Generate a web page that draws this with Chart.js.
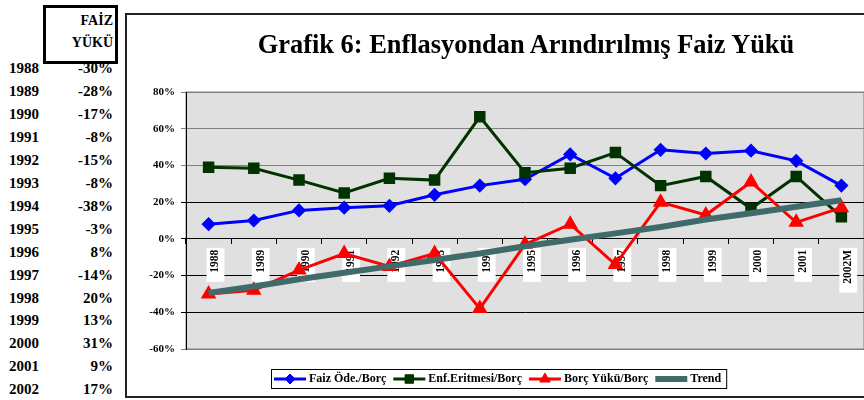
<!DOCTYPE html>
<html>
<head>
<meta charset="utf-8">
<script src="https://cdn.jsdelivr.net/npm/chart.js@4"></script>
<style>
  html, body { margin:0; padding:0; background:#fff; overflow:hidden; }
  body { width:864px; height:400px; position:relative; font-family:"Liberation Serif", serif; font-weight:bold; color:#000; }
  #hdr { position:absolute; left:43px; top:5px; width:69px; height:53px; border:3px solid #000; }
  #hdr div { position:absolute; right:2px; font-size:14px; }
  .yr { position:absolute; left:9px; font-size:15px; }
  .vl { position:absolute; width:60px; left:53px; text-align:right; font-size:15px; }
  #box { position:absolute; left:125px; top:13px; width:760px; height:381px; border:2px solid #222; }
  #title { position:absolute; left:126px; top:29px; width:800px; text-align:center; font-size:26.4px; line-height:30px; }
  #wrap { position:absolute; left:127px; top:15px; width:746px; height:379px; }
</style>
</head>
<body>
<div id="hdr"><div style="top:5px">FAİZ</div><div style="top:27px">YÜKÜ</div></div>
<div id="table"></div>
<div id="box"></div>
<div id="wrap"><canvas id="myChart"></canvas></div>
<div id="title">Grafik 6: Enflasyondan Arındırılmış Faiz Yükü</div>
<script>
// data
var YEARS=['1988','1989','1990','1991','1992','1993','1994','1995','1996','1997','1998','1999','2000','2001','2002M'];
var TABLE_YEARS=['1988','1989','1990','1991','1992','1993','1994','1995','1996','1997','1998','1999','2000','2001','2002'];
var FAIZ_YUKU=[-30,-28,-17,-8,-15,-8,-38,-3,8,-14,20,13,31,9,17];

var faizOde=[8,10,15.5,17,18,24,29,32.5,46,33,48.5,46.5,48,42.5,29];
var enfEritme=[39,38.5,32,25,33,32,66.5,36,38.5,47,29,34,16.5,34,12];
var borcYuku=[-30,-28,-17,-8,-15,-8,-38,-3,8,-14,20,13,31,9,17];
var trend=[-29.5,-26,-22,-18.5,-15,-11.5,-8,-4,-0.5,3,6.5,10.5,14,17.5,21];

var Y_TICKS=[80,60,40,20,0,-20,-40,-60];

// left table
var tbl=document.getElementById('table');
for (var i=0;i<TABLE_YEARS.length;i++)
{
    var rowTop=60+i*22.95;
    var a=document.createElement('div');
    a.className='yr'; a.style.top=rowTop+'px'; a.textContent=TABLE_YEARS[i];
    var b=document.createElement('div');
    b.className='vl'; b.style.top=rowTop+'px'; b.textContent=FAIZ_YUKU[i]+'%';
    tbl.appendChild(a); tbl.appendChild(b);
}

// gray plot background + excel style legend
var plotBg={
    id:'plotBg',
    beforeDraw:function(chart){
        var c=chart.ctx, a=chart.chartArea;
        c.save();
        c.fillStyle='#e0e0e0';
        c.fillRect(a.left,a.top,a.right-a.left,a.bottom-a.top);
        c.strokeStyle='#808080';
        c.lineWidth=1;
        c.strokeRect(a.left,a.top,a.right-a.left,a.bottom-a.top);
        c.restore();
    },
    afterDraw:function(chart){
        var c=chart.ctx;
        var sets=chart.data.datasets;
        c.save();
        c.font='bold 12px "Liberation Serif"';
        c.textBaseline='middle';
        var x=147, y=364, lineLen=32;
        var left=x-3;
        for (var k=0;k<sets.length;k++)
        {
            var ds=sets[k];
            c.strokeStyle=ds.borderColor;
            c.lineWidth=ds.borderWidth;
            c.beginPath(); c.moveTo(x,y); c.lineTo(x+lineLen,y); c.stroke();
            if (ds.pointRadius>0)
            {
                c.fillStyle=ds.borderColor;
                c.lineWidth=1;
                Chart.helpers.drawPoint(c,{pointStyle:ds.pointStyle,radius:ds.pointRadius,rotation:0,borderWidth:1},x+lineLen/2,y);
            }
            x+=lineLen+3;
            c.fillStyle='#000';
            c.fillText(ds.label,x,y);
            x+=c.measureText(ds.label).width+7;
        }
        c.strokeStyle='#000';
        c.lineWidth=1;
        c.strokeRect(left+0.5,354.5,x-left-2,19);
        c.restore();
    }
};

var ctx=document.getElementById('myChart').getContext('2d');
var chart=new Chart(ctx,{
    type:'line',
    data:{
        labels:YEARS,
        datasets:[{
            label:'Faiz Öde./Borç',
            data:faizOde,
            borderColor:'#0000ff', backgroundColor:'#0000ff',
            borderWidth:3, pointStyle:'rectRot', pointRadius:5,
            order:3
        },{
            label:'Enf.Eritmesi/Borç',
            data:enfEritme,
            borderColor:'#003300', backgroundColor:'#003300',
            borderWidth:3, pointStyle:'rect', pointRadius:6,
            order:2
        },{
            label:'Borç Yükü/Borç',
            data:borcYuku,
            borderColor:'#ff0000', backgroundColor:'#ff0000',
            borderWidth:3, pointStyle:'triangle', pointRadius:6,
            order:1
        },{
            label:'Trend',
            data:trend,
            borderColor:'#416b6b', backgroundColor:'#416b6b',
            borderWidth:6, pointRadius:0,
            order:0
        }]
    },
    options:{
        responsive:true,
        maintainAspectRatio:false,
        animation:false,
        layout:{padding:{top:77,right:6,bottom:45,left:0}},
        plugins:{legend:{display:false},title:{display:false},tooltip:{enabled:false}},
        elements:{line:{tension:0},point:{borderWidth:1}},
        scales:{
            x:{
                position:{y:0},
                offset:true,
                z:1,
                grid:{display:true,drawOnChartArea:false,drawTicks:true,tickLength:5,color:'#000',offset:true},
                border:{display:true,color:'#000',width:1},
                ticks:{
                    autoSkip:false,minRotation:90,maxRotation:90,padding:6,
                    color:'#000',font:{family:'Liberation Serif',weight:'bold',size:11.5},
                    showLabelBackdrop:true,backdropColor:'#fff',
                    backdropPadding:{left:9,right:2,top:2,bottom:2}
                }
            },
            y:{
                min:-60,max:80,
                afterFit:function(s){ s.width=59; },
                afterBuildTicks:function(s){ s.ticks=Y_TICKS.map(function(v){return {value:v};}); },
                grid:{
                    tickLength:5,
                    color:function(c){ return (c.tick && c.tick.value>=40) || (c.tick && c.tick.value==-60) ? '#808080' : '#000'; }
                },
                border:{display:true,color:'#000',width:1},
                ticks:{
                    padding:6,color:'#000',
                    font:{family:'Liberation Serif',weight:'bold',size:11},
                    callback:function(v){ return v+'%'; }
                }
            }
        }
    },
    plugins:[plotBg]
});
</script>
</body>
</html>
